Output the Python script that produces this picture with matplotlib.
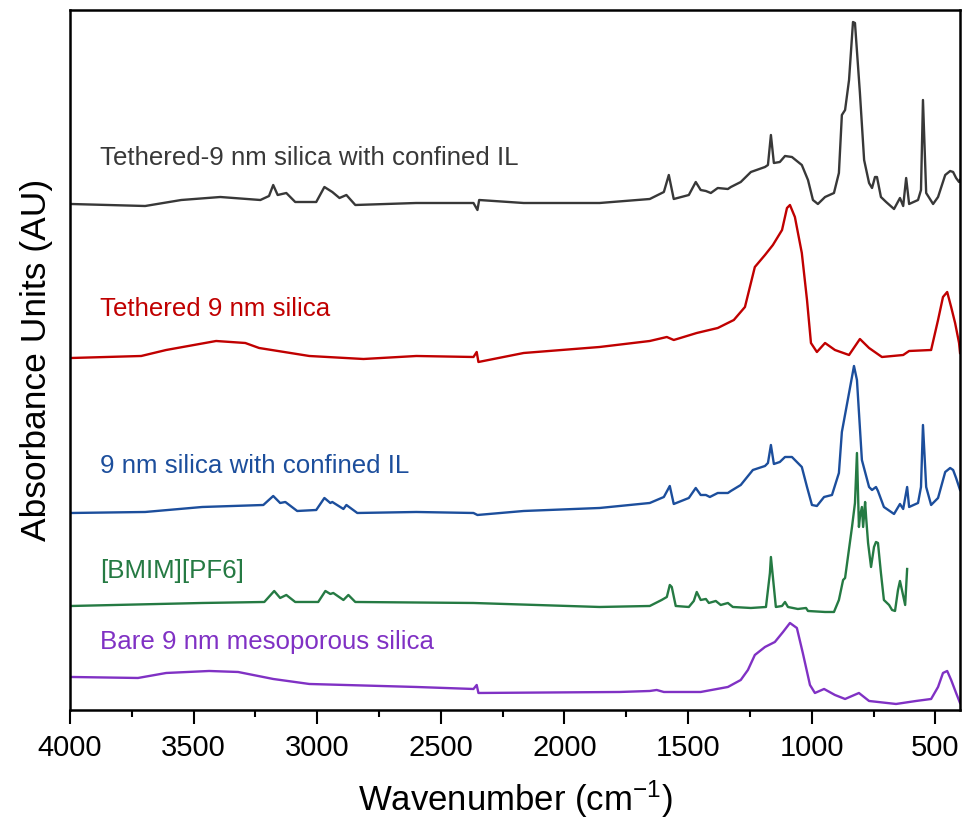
import matplotlib
matplotlib.use("Agg")
import matplotlib.pyplot as plt
from matplotlib.ticker import MultipleLocator

plt.rcParams["font.family"] = ["Liberation Sans", "DejaVu Sans"]
plt.rcParams["mathtext.fontset"] = "custom"
plt.rcParams["mathtext.rm"] = "Liberation Sans"
plt.rcParams["mathtext.default"] = "regular"

# spectra: wavenumber (cm-1) and offset absorbance (AU)
wn_black = [3995, 3696, 3550, 3392, 3230, 3195, 3178, 3160, 3125, 3089, 3004, 2971, 2939,
            2910, 2882, 2846, 2600, 2368, 2352, 2345, 2165, 1858, 1655, 1598, 1578, 1558,
            1497, 1469, 1449, 1428, 1408, 1380, 1339, 1327, 1287, 1246, 1189, 1177, 1165,
            1153, 1129, 1108, 1080, 1040, 1015, 995, 975, 946, 910, 890, 878, 865, 849, 833,
            825, 805, 788, 768, 756, 744, 736, 720, 699, 667, 643, 630, 618, 606, 570, 558,
            550, 537, 509, 489, 460, 440, 428, 416, 404, 400]
ab_black = [5.06, 5.04, 5.10, 5.13, 5.10, 5.14, 5.25, 5.15, 5.17, 5.08, 5.08, 5.23, 5.18,
            5.12, 5.15, 5.05, 5.07, 5.07, 5.00, 5.10, 5.07, 5.07, 5.11, 5.18, 5.35, 5.11,
            5.15, 5.28, 5.20, 5.19, 5.17, 5.22, 5.21, 5.23, 5.28, 5.38, 5.43, 5.45, 5.75,
            5.47, 5.48, 5.54, 5.53, 5.45, 5.30, 5.10, 5.06, 5.13, 5.17, 5.37, 5.95, 6.00,
            6.30, 6.88, 6.87, 6.17, 5.50, 5.27, 5.22, 5.33, 5.33, 5.13, 5.08, 5.01, 5.12,
            5.04, 5.32, 5.06, 5.10, 5.20, 6.10, 5.17, 5.06, 5.13, 5.35, 5.39, 5.38, 5.32,
            5.28, 5.30]

wn_red = [3995, 3712, 3611, 3409, 3291, 3235, 3032, 2813, 2599, 2368, 2355, 2348, 2165,
          1858, 1655, 1586, 1558, 1465, 1380, 1315, 1270, 1250, 1230, 1189, 1157, 1120,
          1100, 1088, 1068, 1040, 1019, 1003, 979, 946, 906, 849, 805, 768, 716, 630, 606,
          517, 489, 469, 452, 436, 420, 404, 400]
ab_red = [3.52, 3.54, 3.60, 3.69, 3.67, 3.62, 3.54, 3.51, 3.54, 3.53, 3.58, 3.48, 3.57,
          3.63, 3.69, 3.73, 3.70, 3.77, 3.82, 3.90, 4.03, 4.23, 4.43, 4.55, 4.65, 4.80,
          5.02, 5.05, 4.93, 4.57, 4.10, 3.67, 3.58, 3.67, 3.60, 3.55, 3.71, 3.62, 3.53,
          3.55, 3.59, 3.60, 3.90, 4.13, 4.18, 4.03, 3.87, 3.67, 3.57]

wn_blue = [3995, 3696, 3465, 3218, 3178, 3150, 3129, 3081, 3004, 2971, 2947, 2939, 2894,
           2882, 2838, 2599, 2368, 2352, 2165, 1858, 1655, 1598, 1574, 1558, 1497, 1469,
           1449, 1428, 1412, 1380, 1339, 1327, 1287, 1238, 1189, 1177, 1165, 1153, 1129,
           1108, 1080, 1040, 1019, 999, 979, 950, 918, 890, 878, 849, 829, 817, 797, 768,
           756, 740, 732, 708, 667, 643, 630, 614, 606, 570, 558, 550, 537, 517, 489, 460,
           440, 428, 416, 400]
ab_blue = [1.97, 1.98, 2.03, 2.05, 2.14, 2.07, 2.08, 1.99, 2.00, 2.12, 2.07, 2.08, 2.01,
           2.05, 1.97, 1.98, 1.97, 1.95, 1.99, 2.02, 2.07, 2.13, 2.24, 2.06, 2.12, 2.22,
           2.15, 2.15, 2.13, 2.17, 2.17, 2.19, 2.25, 2.40, 2.44, 2.47, 2.65, 2.46, 2.48,
           2.53, 2.53, 2.43, 2.23, 2.05, 2.04, 2.13, 2.15, 2.37, 2.78, 3.17, 3.44, 3.30,
           2.50, 2.23, 2.20, 2.23, 2.19, 2.03, 1.96, 2.06, 2.01, 2.23, 2.03, 2.07, 2.23,
           2.85, 2.23, 2.05, 2.12, 2.38, 2.42, 2.40, 2.32, 2.20]

wn_green = [3995, 3465, 3214, 3174, 3150, 3125, 3089, 2996, 2967, 2947, 2935, 2894, 2874,
            2846, 2368, 1858, 1655, 1607, 1586, 1574, 1566, 1550, 1497, 1477, 1465, 1449,
            1428, 1416, 1388, 1368, 1339, 1319, 1246, 1185, 1169, 1165, 1153, 1145, 1120,
            1108, 1096, 1056, 1023, 1015, 946, 910, 890, 873, 865, 837, 825, 817, 809, 805,
            797, 792, 784, 780, 772, 760, 748, 740, 732, 720, 708, 687, 675, 663, 651, 643,
            635, 622, 614]
ab_green = [1.04, 1.07, 1.08, 1.19, 1.12, 1.15, 1.08, 1.08, 1.19, 1.16, 1.17, 1.10, 1.15,
            1.08, 1.07, 1.03, 1.04, 1.10, 1.13, 1.25, 1.23, 1.04, 1.03, 1.09, 1.18, 1.10,
            1.11, 1.07, 1.09, 1.05, 1.07, 1.03, 1.02, 1.03, 1.37, 1.53, 1.23, 1.03, 1.04,
            1.08, 1.03, 1.01, 1.02, 0.99, 0.98, 0.98, 1.10, 1.30, 1.32, 1.83, 2.07, 2.57,
            1.83, 1.93, 2.03, 1.83, 2.08, 1.93, 1.67, 1.43, 1.63, 1.68, 1.67, 1.37, 1.10,
            1.05, 1.00, 0.99, 1.20, 1.29, 1.20, 1.05, 1.41]

wn_purple = [3995, 3725, 3611, 3437, 3320, 3178, 3032, 2599, 2368, 2355, 2348, 1777, 1655,
             1627, 1598, 1449, 1339, 1287, 1258, 1230, 1189, 1149, 1116, 1088, 1060, 1036,
             1007, 987, 950, 906, 865, 809, 768, 659, 578, 517, 489, 469, 452, 436, 416, 400]
ab_purple = [0.33, 0.32, 0.37, 0.39, 0.38, 0.31, 0.26, 0.23, 0.21, 0.25, 0.17, 0.18, 0.19,
             0.20, 0.18, 0.18, 0.23, 0.30, 0.40, 0.55, 0.63, 0.68, 0.78, 0.87, 0.82, 0.57,
             0.25, 0.17, 0.21, 0.15, 0.11, 0.17, 0.09, 0.06, 0.09, 0.11, 0.23, 0.37, 0.39,
             0.30, 0.17, 0.07]

labels = ["Tethered-9 nm silica with confined IL", "Tethered 9 nm silica",
          "9 nm silica with confined IL", "[BMIM][PF6]", "Bare 9 nm mesoporous silica"]
label_y = [5.52, 4.01, 2.44, 1.39, 0.68]
colors = ["#383838", "#C00000", "#1C4E9C", "#257A43", "#8031C4"]

fig = plt.figure(figsize=(9.64, 8.27), dpi=100)
ax = fig.add_axes([0.0726, 0.1415, 0.9233, 0.8464])

series = [(wn_black, ab_black), (wn_red, ab_red), (wn_blue, ab_blue),
          (wn_green, ab_green), (wn_purple, ab_purple)]
for (wn, ab), c, lab, ly in zip(series, colors, labels, label_y):
    ax.plot(wn, ab, color=c, lw=1.7)
    ax.text(3878, ly, lab, color=c, fontsize=18.6, va="center", ha="left")

ax.set_xlim(4000, 400)
ax.set_ylim(0, 7.0)
ax.set_yticks([])
ax.xaxis.set_major_locator(MultipleLocator(500))
ax.xaxis.set_minor_locator(MultipleLocator(250))
ax.tick_params(axis="x", which="major", direction="out", length=10, width=1.5,
               labelsize=21, pad=7)
ax.tick_params(axis="x", which="minor", direction="out", length=5, width=1.5)
for s in ax.spines.values():
    s.set_linewidth(1.8)

ax.set_xlabel("Wavenumber (cm$^{-1}$)", fontsize=25, labelpad=12)
ax.set_ylabel("Absorbance Units (AU)", fontsize=25.5, labelpad=12)

fig.savefig("out.png", dpi=100)
